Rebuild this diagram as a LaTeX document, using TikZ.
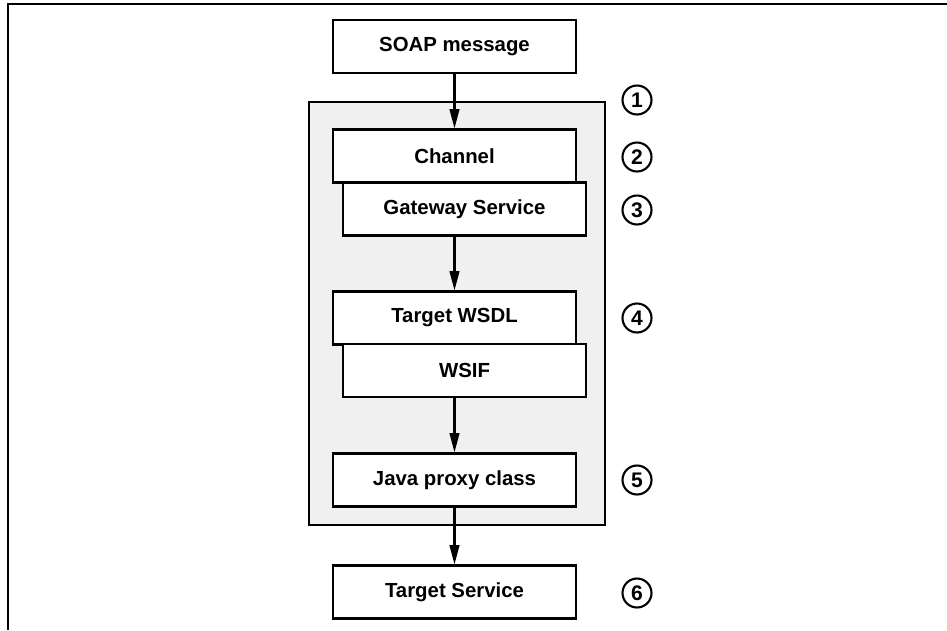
\documentclass[tikz,border=0pt]{standalone}
\usepackage{fontspec}
\setmainfont{Liberation Sans}
\usetikzlibrary{arrows.meta}
\definecolor{panelgrey}{HTML}{F0F0F0}
\tikzset{
  stepbox/.style={draw, line width=1.2pt, fill=white, inner sep=0pt,
    minimum width=4.86cm, minimum height=1.06cm, font=\bfseries\fontsize{11.6}{13}\selectfont},
  stepnum/.style={draw, circle, line width=1.2pt, inner sep=0pt, minimum size=0.58cm,
    font=\bfseries\fontsize{12}{13}\selectfont},
  flow/.style={-{Triangle[length=11pt,width=5.5pt]}, line width=1.2pt}
}
\begin{document}
\begin{tikzpicture}[x=0.02cm, y=-0.02cm]
\useasboundingbox (0,0) rectangle (947,630);
% page frame
\draw[line width=1.2pt] (947,4) -- (8,4) -- (8,630);

% gateway panel
\draw[fill=panelgrey, line width=1.2pt] (309,102) rectangle (605,525);

% boxes
\node[stepbox] (soap) at (454.5,46.5) {SOAP message};
\node[stepbox] (channel) at (454.5,156) {Channel};
\node[stepbox] (gateway) at (464.5,209) {Gateway Service};
\node[stepbox] (wsdl) at (454.5,318) {Target WSDL};
\node[stepbox] (wsif) at (464.5,370.5) {WSIF};
\node[stepbox] (proxy) at (454.5,480) {Java proxy class};
\node[stepbox] (target) at (454.5,592) {Target Service};

% step numbers
\node[stepnum] (n1) at (637,100) {1};
\node[stepnum] (n2) at (637,157) {2};
\node[stepnum] (n3) at (637,210) {3};
\node[stepnum] (n4) at (637,318) {4};
\node[stepnum] (n5) at (637,480) {5};
\node[stepnum] (n6) at (637,593) {6};

% Arrows
\draw[flow] (soap) -- (channel);
\draw[flow] (wsdl.north |- gateway.south) -- (wsdl.north);
\draw[flow] (proxy.north |- wsif.south) -- (proxy.north);
\draw[flow] (proxy) -- (target);
\end{tikzpicture}
\end{document}
